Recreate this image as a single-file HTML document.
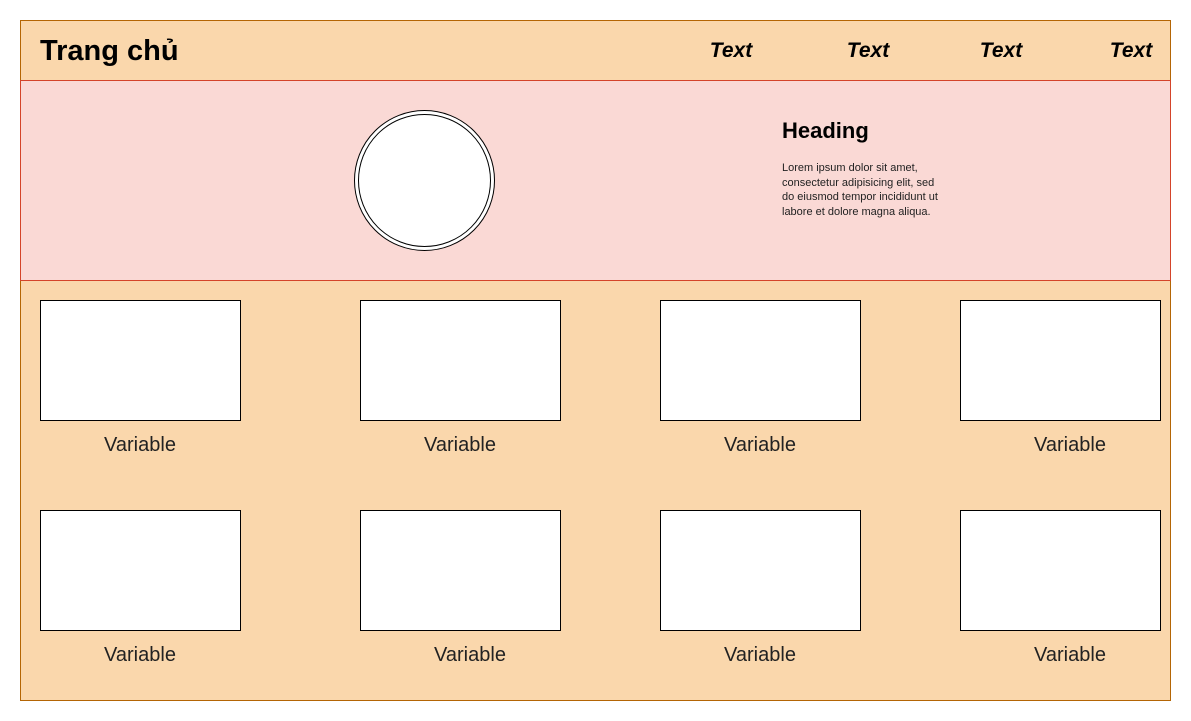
<!DOCTYPE html>
<html><head><meta charset="utf-8"><style>
body{margin:0;width:1191px;height:721px;background:#fff;position:relative;font-family:"Liberation Sans","Noto Sans CJK SC",sans-serif;overflow:hidden}
.a{position:absolute;box-sizing:border-box}
.card{background:#fff;border:1px solid #000;width:201px;height:121px}
.lbl{font-size:20px;color:#222;width:200px;text-align:center;line-height:20px}
.nav{font-size:21px;font-weight:bold;font-style:italic;width:100px;text-align:center;top:39px;line-height:24px}
</style></head><body>
<div class="a" style="left:20px;top:20px;width:1151px;height:681px;background:#fad7ac;border:1px solid #b46504"></div>
<div class="a" style="left:20px;top:80px;width:1151px;height:201px;background:#fad9d5;border:1px solid #d4442a"></div>
<div class="a" style="left:40px;top:34px;font-size:29px;font-weight:bold;line-height:34px">Trang chủ</div>
<div class="a nav" style="left:681px">Text</div>
<div class="a nav" style="left:818px">Text</div>
<div class="a nav" style="left:951px">Text</div>
<div class="a nav" style="left:1081px">Text</div>
<div class="a" style="left:354px;top:110px;width:141px;height:141px;border-radius:50%;border:1px solid #000;background:#fff"></div>
<div class="a" style="left:358px;top:114px;width:133px;height:133px;border-radius:50%;border:1px solid #000"></div>
<div class="a" style="left:782px;top:118px;font-size:22px;font-weight:bold;line-height:26px">Heading</div>
<div class="a" style="left:782px;top:161px;width:172px;font-size:11px;line-height:14.5px;color:#222">Lorem ipsum dolor sit amet,<br>consectetur adipisicing elit, sed<br>do eiusmod tempor incididunt ut<br>labore et dolore magna aliqua.</div>

<div class="a card" style="left:40px;top:300px"></div>
<div class="a card" style="left:360px;top:300px"></div>
<div class="a card" style="left:660px;top:300px"></div>
<div class="a card" style="left:960px;top:300px"></div>
<div class="a lbl" style="left:40px;top:435px">Variable</div>
<div class="a lbl" style="left:360px;top:435px">Variable</div>
<div class="a lbl" style="left:660px;top:435px">Variable</div>
<div class="a lbl" style="left:970px;top:435px">Variable</div>

<div class="a card" style="left:40px;top:510px"></div>
<div class="a card" style="left:360px;top:510px"></div>
<div class="a card" style="left:660px;top:510px"></div>
<div class="a card" style="left:960px;top:510px"></div>
<div class="a lbl" style="left:40px;top:645px">Variable</div>
<div class="a lbl" style="left:370px;top:645px">Variable</div>
<div class="a lbl" style="left:660px;top:645px">Variable</div>
<div class="a lbl" style="left:970px;top:645px">Variable</div>
</body></html>
